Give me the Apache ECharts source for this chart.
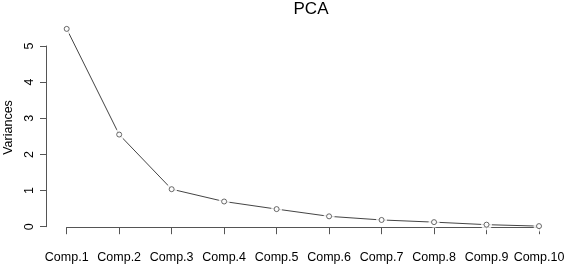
<!DOCTYPE html>
<html><head><meta charset="utf-8">
<script src="https://cdn.jsdelivr.net/npm/echarts@6/dist/echarts.min.js"></script>
<style>html,body{margin:0;padding:0;background:#fff}#c{width:568px;height:267px}</style>
</head><body><div id="c"></div>
<script>
const categories = ['Comp.1','Comp.2','Comp.3','Comp.4','Comp.5','Comp.6','Comp.7','Comp.8','Comp.9','Comp.10'];
const variances = [5.48, 2.56, 1.05, 0.71, 0.50, 0.30, 0.20, 0.14, 0.07, 0.03];
const yTicks = [0, 1, 2, 3, 4, 5];
const titleText = 'PCA';
const yName = 'Variances';

const font = 'Liberation Sans, Arial, sans-serif';
const axisCol = '#555';
const chart = echarts.init(document.getElementById('c'), null, {renderer: 'canvas'});
chart.setOption({
  animation: false,
  backgroundColor: '#fff',
  title: {text: titleText, left: 311, top: 0, padding: [1, 0, 0, 0], textAlign: 'center',
    textStyle: {fontFamily: font, fontSize: 17, fontWeight: 'normal', color: '#000'}},
  grid: [
    {left: 66.7, right: 29, top: 21, bottom: 33, containLabel: false, outerBoundsMode: 'none'},
    {left: 46, width: 10, top: 46, bottom: 40.3, containLabel: false, outerBoundsMode: 'none'}
  ],
  xAxis: [
    {type: 'category', gridIndex: 0, data: categories, boundaryGap: false,
      axisLine: {show: true, lineStyle: {color: axisCol, width: 1}},
      axisTick: {show: true, length: 7, inside: false, alignWithLabel: true, lineStyle: {color: axisCol}},
      axisLabel: {interval: 0, margin: 17, fontFamily: font, fontSize: 12.5, color: '#000', hideOverlap: false},
      splitLine: {show: false}},
    {type: 'value', gridIndex: 1, show: false, min: 0, max: 1}
  ],
  yAxis: [
    {type: 'value', gridIndex: 0, min: -0.188, max: 5.698,
      axisLine: {show: false}, axisTick: {show: false}, axisLabel: {show: false}, splitLine: {show: false},
      name: yName, nameLocation: 'middle', nameGap: 52, nameRotate: 90,
      nameTextStyle: {fontFamily: font, fontSize: 12.5, color: '#000'}},
    {type: 'value', gridIndex: 1, min: yTicks[0], max: yTicks[yTicks.length - 1], interval: 1,
      axisLine: {show: true, lineStyle: {color: axisCol, width: 1}},
      axisTick: {show: true, length: 6, inside: false, lineStyle: {color: axisCol}},
      axisLabel: {rotate: 90, margin: 10, fontFamily: font, fontSize: 12.5, color: '#000'},
      splitLine: {show: false}}
  ],
  series: [
    {type: 'line', xAxisIndex: 0, yAxisIndex: 0, data: variances, symbol: 'none',
      lineStyle: {color: '#444', width: 1}, z: 2},
    {type: 'scatter', xAxisIndex: 0, yAxisIndex: 0, data: variances, symbol: 'circle', symbolSize: 11,
      itemStyle: {color: '#fff'}, z: 3, silent: true},
    {type: 'scatter', xAxisIndex: 0, yAxisIndex: 0, data: variances, symbol: 'circle', symbolSize: 5,
      itemStyle: {color: '#fff', borderColor: '#444', borderWidth: 1}, z: 4, silent: true}
  ]
});
</script></body></html>
